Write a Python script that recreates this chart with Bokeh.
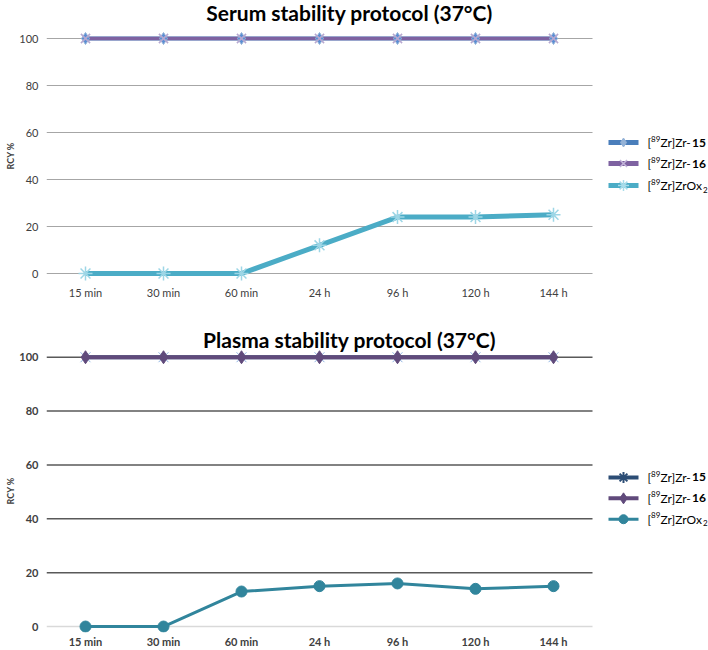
from bokeh.plotting import figure
from bokeh.layouts import column
from bokeh.models import Range1d, FixedTicker, Title
from bokeh.embed import file_html
from bokeh.resources import INLINE
from bokeh.core.properties import value

# Sampling times
times = ["15 min", "30 min", "60 min", "24 h", "96 h", "120 h", "144 h"]

# Radiochemical yield (%) - serum stability
serum_zr15 = [100, 100, 100, 100, 100, 100, 100]
serum_zr16 = [100, 100, 100, 100, 100, 100, 100]
serum_zrox2 = [0, 0, 0, 12, 24, 24, 25]

# Radiochemical yield (%) - plasma stability
plasma_zr15 = [100, 100, 100, 100, 100, 100, 100]
plasma_zr16 = [100, 100, 100, 100, 100, 100, 100]
plasma_zrox2 = [0, 0, 13, 15, 16, 14, 15]

y_ticks = [0, 20, 40, 60, 80, 100]
series_ids = ["15", "16", "Ox2"]

FONT = "Lato"
WIDTH = 708
LEFT = 46          # left edge of the plotting area
SLOT = 78          # pixels per time point
xpos = [i + 0.5 for i in range(len(times))]   # category centres on the x scale

# rough advance widths (em) used to chain legend text pieces
EM = {"[": 0.30, "]": 0.30, "Z": 0.62, "r": 0.37, "-": 0.36, "O": 0.78,
      "x": 0.50, "1": 0.58, "2": 0.58, "5": 0.58, "6": 0.58, "8": 0.58, "9": 0.58}


def text_w(s, size):
    return sum(EM.get(c, 0.55) for c in s) * size


class Chart:
    """One panel; y100/y0 are pixel rows of the 100 % and 0 % levels."""

    def __init__(self, height, y100, y0, pad_below, label_standoff, tick_style):
        self.ppu = (y0 - y100) / 100.0
        self.y100 = y100
        frame_bottom = y0 + pad_below
        top_val = 100 + y100 / self.ppu
        bot_val = -pad_below / self.ppu
        x_end = (WIDTH - LEFT) / SLOT
        p = figure(x_range=Range1d(0, x_end), y_range=Range1d(bot_val, top_val),
                   width=WIDTH, height=height, output_backend="svg", toolbar_location=None,
                   min_border_left=LEFT, min_border_right=0, min_border_top=0,
                   min_border_bottom=int(height - frame_bottom))
        p.outline_line_color = None
        p.background_fill_color = "white"
        p.border_fill_color = "white"
        p.xgrid.grid_line_color = None
        p.ygrid.grid_line_color = None

        p.yaxis.ticker = FixedTicker(ticks=y_ticks)
        p.yaxis.axis_line_color = None
        p.yaxis.major_tick_line_color = None
        p.yaxis.minor_tick_line_color = None
        p.yaxis.major_tick_in = 0
        p.yaxis.major_tick_out = 0
        p.yaxis.major_label_text_font = FONT
        p.yaxis.major_label_text_font_size = "11px"
        p.yaxis.major_label_text_font_style = tick_style
        p.yaxis.major_label_text_color = "#404040"
        p.yaxis.major_label_standoff = 8

        # rotated caption of the y axis, centred on the 0-100 span
        mid = (y100 + y0) / 2
        cap = Title(text="RCY %", align="left", offset=int(round(frame_bottom - mid - 13)),
                    standoff=2, text_font=FONT, text_font_size="9px",
                    text_font_style="bold", text_color="#404040")
        p.add_layout(cap, "left")

        p.xaxis.ticker = FixedTicker(ticks=xpos)
        p.xaxis.major_label_overrides = {x: t for x, t in zip(xpos, times)}
        p.xaxis.axis_line_color = None
        p.xaxis.major_tick_line_color = None
        p.xaxis.minor_tick_line_color = None
        p.xaxis.major_tick_in = 0
        p.xaxis.major_tick_out = 0
        p.xaxis.major_label_text_font = FONT
        p.xaxis.major_label_text_font_size = "11px"
        p.xaxis.major_label_text_font_style = tick_style
        p.xaxis.major_label_text_color = "#404040"
        p.xaxis.major_label_standoff = label_standoff
        self.p = p

    # pixel position inside the panel -> data position
    def dx(self, X):
        return (X - LEFT) / SLOT

    def dy(self, Y):
        return 100 - (Y - self.y100) / self.ppu

    def gridlines(self, color, width, zero_color):
        n = len(times)
        for t in y_ticks:
            self.p.segment(x0=[0], y0=[t], x1=[n], y1=[t],
                           line_color=zero_color if t == 0 else color, line_width=width)

    def text(self, X, Y, s, size, style="normal", align="left"):
        self.p.text([self.dx(X)], [self.dy(Y)], text=[s], text_font=value(FONT),
                    text_font_size=f"{size}px", text_font_style=style, text_align=align,
                    text_baseline="middle", text_color="#000000")

    def title(self, s, Y):
        self.text(WIDTH / 2 - 5, Y, s, 21, "bold", "center")

    def legend(self, rows, keys):
        size = 12
        for Y, sid, key in zip(rows, series_ids, keys):
            y = self.dy(Y)
            self.p.line([self.dx(608), self.dx(638)], [y, y],
                        line_color=key["line"], line_width=key["lw"])
            self.p.scatter([self.dx(623)], [y], marker=key["marker"], size=key["size"],
                           fill_color=key["fill"], line_color=key["mline"],
                           line_width=key["mlw"])
            X = 647
            self.text(X, Y, "[", size)
            X += text_w("[", size)
            self.text(X, Y - 4, "89", 8)
            X += text_w("89", 8)
            if sid == "Ox2":
                self.text(X, Y, "Zr]ZrOx", size)
                X += text_w("Zr]ZrOx", size)
                self.text(X, Y + 4, "2", 8)
            else:
                self.text(X, Y, "Zr]Zr-", size)
                X += text_w("Zr]Zr-", size)
                self.text(X, Y, sid, size, "bold")


# --- Serum chart ---
top = Chart(315, 38, 273, 8, 4, "normal")
top.gridlines("#a6a6a6", 1.2, "#a6a6a6")
tp = top.p
tp.line(xpos, serum_zr15, line_color="#4a7ebb", line_width=4)
tp.line(xpos, serum_zr16, line_color="#7e62a1", line_width=3.5)
tp.scatter(xpos, serum_zr15, marker="diamond", size=12, fill_color="#5b8fd4",
           line_color="#95b3d7", line_width=1)
tp.scatter(xpos, serum_zr16, marker="x", size=13, line_color="#b7a8d0", line_width=1.5)
tp.line(xpos, serum_zrox2, line_color="#4bacc6", line_width=5)
tp.scatter(xpos, serum_zrox2, marker="asterisk", size=14, line_color="#9dd6e6", line_width=1.5)
top.title("Serum stability protocol (37°C)", 12)
top.legend([142, 163, 185], [
    dict(line="#4a7ebb", lw=5, marker="diamond", size=9, fill="#95b3d7", mline="#95b3d7", mlw=1),
    dict(line="#7e62a1", lw=5, marker="x", size=10, fill=None, mline="#c3b5da", mlw=1.5),
    dict(line="#4bacc6", lw=5, marker="asterisk", size=11, fill=None, mline="#a8dcea", mlw=1.5),
])

# --- Plasma chart ---
bot = Chart(335, 42, 313, 6, 2, "bold")
bot.gridlines("#595959", 1.5, "#d9d9d9")
bp = bot.p
bp.line(xpos, plasma_zr15, line_color="#2c4d75", line_width=4)
bp.scatter(xpos, plasma_zr15, marker="x", size=14, line_color="#8eb4e3", line_width=1)
bp.line(xpos, plasma_zr16, line_color="#604a7b", line_width=4)
bp.scatter(xpos, plasma_zr16, marker="diamond", size=13, fill_color="#604a7b",
           line_color="#604a7b")
bp.line(xpos, plasma_zrox2, line_color="#31859c", line_width=3)
bp.scatter(xpos, plasma_zrox2, marker="circle", size=11, fill_color="#31859c",
           line_color="#31859c")
bot.title("Plasma stability protocol (37°C)", 24)
bot.legend([163, 184, 205], [
    dict(line="#2c4d75", lw=4, marker="asterisk", size=11, fill=None, mline="#2c4d75", mlw=2),
    dict(line="#604a7b", lw=4, marker="diamond", size=11, fill="#604a7b", mline="#604a7b", mlw=1),
    dict(line="#31859c", lw=3, marker="circle", size=9, fill="#31859c", mline="#31859c", mlw=1),
])

layout = column(top.p, bot.p)
open("out.html", "w").write(file_html(layout, INLINE))
